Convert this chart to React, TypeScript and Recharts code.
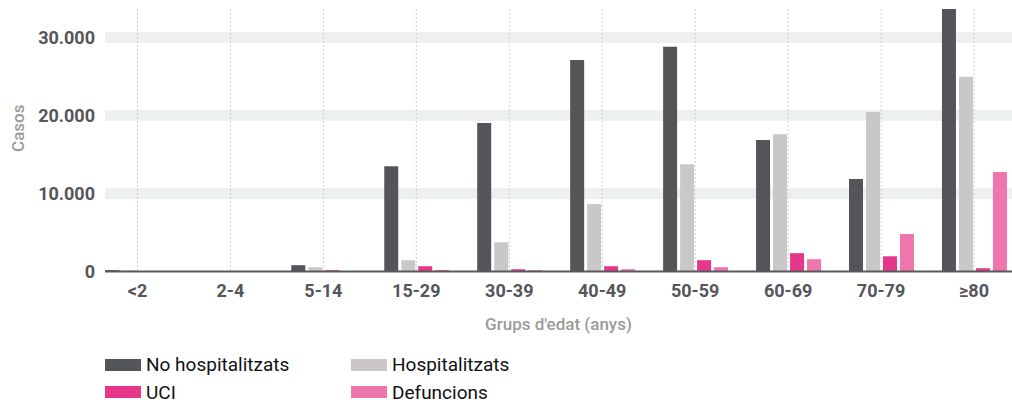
import React from 'react';
import { BarChart, Bar, XAxis, YAxis, CartesianGrid, Legend } from 'recharts';

const categories = ['<2', '2-4', '5-14', '15-29', '30-39', '40-49', '50-59', '60-69', '70-79', '≥80'];
const noHospitalitzats = [180, 60, 810, 13500, 19050, 27100, 28800, 16850, 11850, 33650];
const hospitalitzats = [130, 40, 550, 1450, 3750, 8650, 13750, 17600, 20450, 24950];
const uci = [40, 30, 170, 680, 300, 680, 1450, 2350, 1950, 420];
const defuncions = [15, 5, 50, 200, 170, 300, 550, 1580, 4800, 12750];
const yTicks = [0, 10000, 20000, 30000];

const seriesNames = ['No hospitalitzats', 'Hospitalitzats', 'UCI', 'Defuncions'];
const seriesColors = ['#545559', '#c9c7c8', '#e5388b', '#ee76ad'];

const data = categories.map((c, i) => ({
  cat: c,
  s0: noHospitalitzats[i],
  s1: hospitalitzats[i],
  s2: uci[i],
  s3: defuncions[i],
}));

const fmt = (v: number) => String(v).replace(/\B(?=(\d{3})+(?!\d))/g, '.');

const FONT = 'Roboto, "Noto Sans", sans-serif';

const renderLegend = (props: any) => {
  const payload = [...(props.payload || [])].sort(
    (a: any, b: any) => seriesNames.indexOf(a.value) - seriesNames.indexOf(b.value)
  );
  return (
    <div
      style={{
        display: 'grid',
        gridTemplateColumns: '246px 246px',
        fontFamily: FONT,
        fontSize: 19,
        color: '#111',
      }}
    >
      {payload.map((p: any) => (
        <div key={p.value} style={{ display: 'flex', alignItems: 'center', height: 27.5 }}>
          <span
            style={{ display: 'inline-block', width: 36, height: 12, background: p.color, marginRight: 5 }}
          />
          <span style={{ lineHeight: '27.5px' }}>{p.value}</span>
        </div>
      ))}
    </div>
  );
};

const YLabel = (props: any) => {
  const vb = props.viewBox || {};
  const x = (vb.x || 0) + 18;
  const y = (vb.y || 0) + vb.height / 2 - 12;
  return (
    <text
      x={x}
      y={y}
      transform={`rotate(-90, ${x}, ${y})`}
      textAnchor="middle"
      dominantBaseline="central"
      fill="#9b9b9b"
      fontSize={17}
      fontWeight={500}
      fontFamily={FONT}
    >
      Casos
    </text>
  );
};

export default function App() {
  return (
    <div
      style={{
        position: 'absolute',
        left: 0,
        top: 0,
        width: 1012,
        height: 404,
        overflow: 'hidden',
        background: '#fff',
        fontFamily: FONT,
      }}
    >
      <BarChart
        width={1012}
        height={404}
        data={data}
        margin={{ top: 9, right: 0, left: 0, bottom: 102.5 }}
        barCategoryGap="15.5%"
        barGap={3}
      >
        <CartesianGrid
          vertical={false}
          horizontalValues={[10000, 20000, 30000]}
          stroke="#eef0ef"
          strokeWidth={11}
        />
        <CartesianGrid horizontal={false} syncWithTicks stroke="#cfcfcf" strokeDasharray="2 2" />
        <XAxis
          dataKey="cat"
          height={30}
          padding={{ left: -14, right: -8.5 }}
          tickSize={0}
          tickMargin={13}
          axisLine={{ stroke: '#58595b', strokeWidth: 2 }}
          tickLine={false}
          tick={{ fill: '#55565a', fontSize: 18, fontWeight: 700, fontFamily: FONT }}
          interval={0}
          label={{
            value: "Grups d'edat (anys)",
            position: 'bottom',
            offset: 16,
            fill: '#9b9b9b',
            fontSize: 17,
            fontWeight: 500,
            fontFamily: FONT,
          }}
        />
        <YAxis
          width={105}
          domain={[0, 'dataMax']}
          ticks={yTicks}
          tickFormatter={fmt}
          axisLine={false}
          tickLine={false}
          tickSize={0}
          tickMargin={10}
          tick={{ fill: '#55565a', fontSize: 18, fontWeight: 700, fontFamily: FONT }}
          label={<YLabel />}
        />
        <Legend
          layout="horizontal"
          verticalAlign="middle"
          align="center"
          content={renderLegend}
          wrapperStyle={{ top: 351, left: 105, width: 520, height: 55 }}
        />
        <Bar dataKey="s0" name={seriesNames[0]} fill={seriesColors[0]} isAnimationActive={false} />
        <Bar dataKey="s1" name={seriesNames[1]} fill={seriesColors[1]} isAnimationActive={false} />
        <Bar dataKey="s2" name={seriesNames[2]} fill={seriesColors[2]} isAnimationActive={false} />
        <Bar dataKey="s3" name={seriesNames[3]} fill={seriesColors[3]} isAnimationActive={false} />
      </BarChart>
    </div>
  );
}
